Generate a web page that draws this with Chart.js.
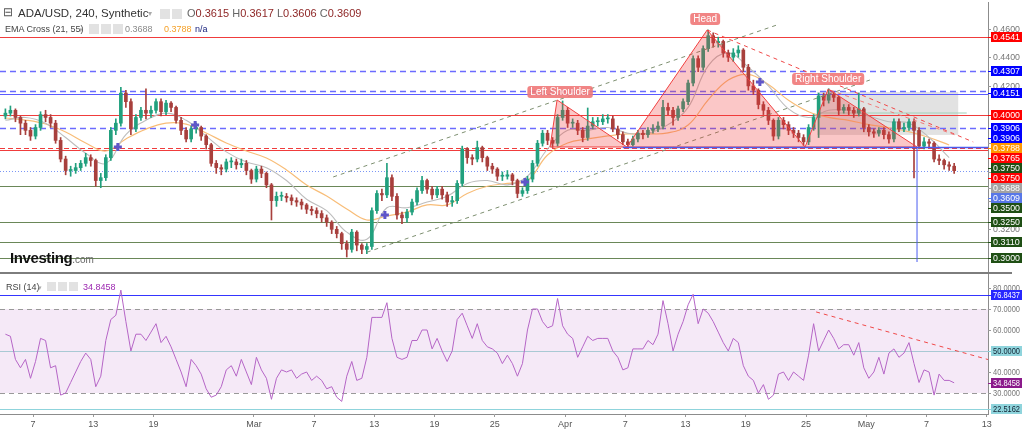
<!DOCTYPE html>
<html>
<head>
<meta charset="utf-8">
<title>ADA/USD, 240</title>
<script src="https://cdn.jsdelivr.net/npm/chart.js@4.4.1/dist/chart.umd.min.js"></script>
<style>
  body { margin: 0; background: #fff; }
  #wrap { position: relative; width: 1024px; height: 429px; overflow: hidden; font-family: "Liberation Sans", Arial, sans-serif; }
  canvas { position: absolute; left: 0; }
  #main { top: 0; width: 1024px; height: 273px; }
  #rsi { top: 273px; width: 1024px; height: 156px; }
  .t { position: absolute; white-space: nowrap; line-height: 1; }
  .ic { position: absolute; width: 10px; height: 10px; background: #e2e2e2; }
  .sep { position: absolute; left: 0; top: 272px; width: 1012px; height: 2px; background: #7d7d7d; }
</style>
</head>
<body>
<div id="wrap">
  <canvas id="main" width="1024" height="273"></canvas>
  <canvas id="rsi" width="1024" height="156"></canvas>
  <div class="sep"></div>

  <div class="t" style="left:3px;top:6px;font-size:12px;color:#555">&#8863;</div>
  <div class="t" style="left:18px;top:8px;font-size:11.5px;color:#333">ADA/USD, 240, Synthetic</div>
  <div class="t" style="left:148px;top:10px;font-size:8px;color:#aaa">&#9662;</div>
  <div class="ic" style="left:160px;top:9px"></div>
  <div class="ic" style="left:172px;top:9px"></div>
  <div class="t" style="left:187px;top:8px;font-size:11px;color:#666">O<span style="color:#8e2626">0.3615</span> H<span style="color:#8e2626">0.3617</span> L<span style="color:#8e2626">0.3606</span> C<span style="color:#8e2626">0.3609</span></div>

  <div class="t" style="left:5px;top:25px;font-size:9px;color:#444">EMA Cross (21, 55)</div>
  <div class="t" style="left:79px;top:26px;font-size:7px;color:#aaa">&#9662;</div>
  <div class="ic" style="left:89px;top:24px"></div>
  <div class="ic" style="left:101px;top:24px"></div>
  <div class="ic" style="left:113px;top:24px"></div>
  <div class="t" style="left:125px;top:25px;font-size:9px;color:#8a8a8a">0.3688</div>
  <div class="t" style="left:164px;top:25px;font-size:9px;color:#f5a128">0.3788</div>
  <div class="t" style="left:195px;top:25px;font-size:9px;color:#1a237e">n/a</div>

  <div class="t" style="left:10px;top:250px;font-size:15px;font-weight:bold;color:#111;letter-spacing:-0.4px">Investing<span style="font-size:10px;font-weight:normal;color:#666;letter-spacing:0">.com</span></div>

  <div class="t" style="left:6px;top:283px;font-size:9px;color:#444">RSI (14)</div>
  <div class="t" style="left:38px;top:284px;font-size:7px;color:#aaa">&#9662;</div>
  <div class="ic" style="left:47px;top:282px;width:9px;height:9px"></div>
  <div class="ic" style="left:58px;top:282px;width:9px;height:9px"></div>
  <div class="ic" style="left:69px;top:282px;width:9px;height:9px"></div>
  <div class="t" style="left:83px;top:283px;font-size:9px;color:#9c27b0">34.8458</div>
</div>
<script>
// 12h candles from Feb 4 onwards
const firstOpen = 0.399;
const closes = [
  .401,.403,.398,.394,.389,.385,.391,.400,.398,.394,
  .382,.369,.361,.361,.363,.366,.370,.368,.354,.356,
  .370,.389,.394,.415,.409,.390,.398,.403,.401,.403,
  .409,.402,.408,.405,.396,.389,.383,.390,.391,.385,
  .379,.366,.363,.362,.367,.367,.365,.366,.361,.355,
  .362,.359,.351,.340,.343,.343,.342,.340,.339,.337,
  .334,.333,.331,.328,.325,.320,.317,.310,.306,.318,
  .309,.306,.308,.333,.345,.344,.356,.343,.330,.328,
  .332,.339,.347,.354,.348,.344,.348,.344,.339,.340,
  .352,.376,.370,.369,.377,.370,.364,.362,.357,.357,
  .358,.354,.345,.347,.355,.366,.380,.387,.382,.380,
  .398,.403,.394,.394,.389,.384,.392,.395,.395,.397,
  .397,.390,.386,.381,.379,.383,.387,.386,.389,.390,
  .392,.405,.403,.398,.404,.409,.422,.439,.433,.446,
  .455,.450,.451,.443,.440,.443,.445,.433,.420,.417,
  .407,.403,.396,.385,.396,.393,.389,.387,.384,.381,
  .391,.398,.413,.410,.414,.412,.403,.405,.403,.401,
  .404,.391,.388,.387,.389,.386,.383,.395,.390,.391,
  .395,.389,.378,.381,.380,.369,.368,.365,.364,.3609
];
const highs = [
  .404,.406,.404,.399,.396,.391,.393,.402,.403,.400,
  .396,.384,.371,.364,.366,.368,.373,.372,.369,.359,
  .372,.391,.397,.419,.417,.411,.400,.405,.418,.406,
  .411,.411,.410,.409,.406,.398,.391,.392,.394,.392,
  .386,.380,.368,.365,.369,.370,.369,.369,.368,.362,
  .364,.364,.360,.352,.346,.346,.345,.344,.342,.341,
  .338,.336,.335,.333,.330,.326,.322,.318,.312,.320,
  .319,.310,.310,.335,.347,.348,.366,.358,.345,.332,
  .334,.341,.349,.357,.355,.350,.350,.350,.346,.343,
  .354,.378,.377,.372,.3815,.378,.371,.366,.363,.360,
  .361,.359,.355,.349,.357,.368,.382,.389,.389,.384,
  .400,.4095,.405,.397,.396,.391,.4046,.398,.398,.400,
  .400,.399,.392,.388,.383,.385,.389,.389,.391,.393,
  .395,.410,.408,.405,.406,.411,.424,.441,.441,.448,
  .459,.457,.454,.452,.445,.446,.448,.446,.435,.424,
  .418,.409,.405,.397,.398,.398,.395,.391,.389,.386,
  .393,.400,.415,.415,.418,.416,.413,.407,.407,.405,
  .415,.405,.393,.390,.391,.391,.388,.397,.397,.394,
  .397,.397,.391,.384,.383,.381,.372,.369,.367,.366
];
const lows = [
  .397,.399,.395,.386,.386,.382,.383,.389,.395,.391,
  .380,.367,.358,.357,.359,.361,.364,.364,.350,.349,
  .354,.368,.386,.392,.405,.386,.388,.396,.397,.398,
  .401,.399,.400,.402,.394,.386,.381,.381,.387,.382,
  .376,.364,.359,.358,.360,.363,.362,.363,.358,.352,
  .353,.356,.349,.3265,.336,.340,.339,.337,.336,.334,
  .331,.330,.328,.325,.322,.317,.314,.306,.3007,.304,
  .305,.303,.303,.306,.331,.340,.342,.340,.327,.324,
  .325,.330,.337,.345,.345,.341,.342,.341,.336,.336,
  .338,.350,.366,.365,.367,.367,.361,.359,.354,.354,
  .355,.351,.342,.343,.345,.353,.364,.378,.379,.377,
  .378,.396,.391,.391,.386,.381,.382,.390,.392,.393,
  .394,.388,.383,.379,.3775,.378,.381,.383,.384,.387,
  .388,.390,.400,.3927,.396,.402,.407,.420,.430,.431,
  .444,.447,.447,.440,.437,.437,.440,.430,.417,.414,
  .404,.400,.393,.382,.383,.390,.386,.384,.381,.3785,
  .379,.389,.384,.406,.408,.409,.400,.401,.400,.398,
  .399,.388,.385,.384,.385,.383,.380,.381,.388,.388,
  .389,.3558,.376,.376,.377,.367,.365,.362,.361,.359
];
const opens = closes.map((c, i) => i === 0 ? firstOpen : closes[i - 1]);

// EMA values read every 4th candle
const emaStep = 4;
const ema21 = [.396,.398,.394,.384,.373,.366,.386,.396,.401,.396,.385,.374,.367,.363,.354,.341,.333,.318,.313,.335,.335,.339,.343,.352,.354,.351,.357,.376,.389,.389,.391,.387,.387,.393,.405,.434,.443,.433,.420,.404,.398,.403,.403,.399,.395,.394,.384,.370];
const ema55 = [.3976,.3962,.3934,.3878,.3802,.3746,.3830,.3899,.3941,.3934,.3872,.3802,.3746,.3697,.3614,.3509,.3432,.3342,.3265,.3293,.3321,.3370,.337,.345,.350,.352,.354,.3718,.3802,.3830,.3851,.3865,.3865,.3872,.3927,.4102,.4241,.428,.421,.410,.402,.398,.396,.393,.391,.388,.384,.3788];
const crossIdx = [22.4, 37.8, 75.6, 103.5, 150.3];
const crossVal = [.3774, .3927, .330, .353, .4227];

const rsi = [
  58,57,46,42,46,37,45,56,55,42,
  43,29,30,35,40,45,49,46,33,38,
  55,65,67,79,64,50,58,58,55,59,
  63,54,57,52,46,40,33,46,43,39,
  32,28,29,33,41,43,38,46,40,34,
  47,41,37,27,37,41,40,41,37,39,
  40,36,38,36,32,33,28,26,38,45,
  36,37,47,66,66,66,73,56,47,46,
  47,55,55,60,60,51,56,50,45,50,
  65,68,62,56,63,55,52,51,49,44,
  48,44,38,44,60,70,70,64,61,62,
  75,62,58,56,47,52,57,55,56,56,
  56,50,47,41,42,51,51,51,55,53,
  58,74,63,50,58,64,72,77,63,70,
  68,64,59,54,50,56,54,43,38,36,
  30,34,27,29,39,40,36,40,38,36,
  48,63,50,55,60,56,51,53,53,48,
  54,42,37,40,47,39,49,51,47,49,
  54,44,35,41,40,29,39,36,36,34.85
];

// date ticks: days after Feb 4
const tickDays = [3, 9, 15, 25, 31, 37, 43, 49, 56, 62, 68, 74, 80, 86, 92, 98];
const tickLabels = ['7', '13', '19', 'Mar', '7', '13', '19', '25', 'Apr', '7', '13', '19', '25', 'May', '7', '13'];
const tickIdx = tickDays.map(d => d * 2 - 0.5);

// drawn levels
const redLines = [0.4541, 0.4000, 0.3755];
const redDashLines = [0.3770];
const blueDashLines = [0.4307, 0.4165, 0.3906];
const blueLines = [0.4145];
const greenLines = [0.3500, 0.3250, 0.3110, 0.3000];
const lastPrice = 0.3609;
const necklineLevel = 0.3774;
const necklineFrom = 123;

const leftShoulder = [[108.5, 0.3774], [109.9, 0.4102], [123.8, 0.3774]];
const headShape = [[123.8, 0.3774], [139.8, 0.4590], [159.3, 0.3774]];
const rightShoulder = [[159.3, 0.3774], [163.9, 0.4178], [181.6, 0.3774]];
const patternLabels = ['Left Shoulder', 'Head', 'Right Shoulder'];
const patternLabelAt = [[110.5, 0.4157], [139.4, 0.4667], [163.9, 0.4248]];
const channelUpper = [[65.3, 0.3565], [153.7, 0.4625]];
const channelLower = [[72.0, 0.3040], [172.2, 0.4241]];
const headTrend = [[139.8, 0.4590], [192.8, 0.3809]];
const shoulderTrend = [[164.3, 0.4171], [189.2, 0.3858]];
const zoneBox = [[161.7, 0.4157], [189.8, 0.3858]];
const zoneMid = [[161.7, 0.4011], [191.5, 0.4011]];
const dropMark = [[181.6, 0.3774], [181.6, 0.2972]];

const priceTicks = [0.46, 0.44, 0.42, 0.40, 0.38, 0.36, 0.34, 0.32, 0.30];
const tagValues = [0.4541, 0.4307, 0.4151, 0.4000, 0.3906, 0.3906, 0.3788, 0.3765, 0.3750, 0.3750, 0.3688, 0.3609, 0.3500, 0.3250, 0.3110, 0.3000];
const tagColors = ['#ff0000', '#0000ff', '#0000ff', '#ff0000', '#0000ff', '#0000ff', '#ff9800', '#ff0000', '#1f4f14', '#ff0000', '#a3a3a3', '#5877e8', '#1f4f14', '#1f4f14', '#1f4f14', '#1f4f14'];

const rsiTicks = [80, 70, 60, 50, 40, 30];
const rsiBand = [70, 30];
const rsiMid = 50;
const rsiHigh = 76.8437;
const rsiLow = 22.5162;
const rsiTrend = [[161.5, 68.6], [196.1, 45.7]];
const rsiTagValues = [76.8437, 50, 34.8458, 22.5162];
const rsiTagColors = ['#2727ff', '#8fd4dc', '#8b1a8b', '#8fd4dc'];
const rsiTagText = ['#fff', '#123', '#fff', '#123'];

const xMin = -1.076, xMax = 195.74;
const upColor = '#22a07e', downColor = '#a8403d';
const tagFont = '9px "Liberation Sans", Arial, sans-serif';

function candleColor(ctx) {
  const i = ctx.dataIndex;
  return closes[i] >= opens[i] ? upColor : downColor;
}

function line(ctx, x, y, pts, color, dash, width) {
  ctx.strokeStyle = color;
  ctx.lineWidth = width || 1;
  ctx.setLineDash(dash || []);
  ctx.beginPath();
  pts.forEach(([a, b], k) => {
    const px = x.getPixelForValue(a), py = y.getPixelForValue(b);
    if (k === 0) ctx.moveTo(px, py); else ctx.lineTo(px, py);
  });
  ctx.stroke();
}

function hline(ctx, area, y, v, color, dash, width) {
  const py = Math.round(y.getPixelForValue(v)) + 0.5;
  ctx.strokeStyle = color;
  ctx.lineWidth = width || 1;
  ctx.setLineDash(dash || []);
  ctx.beginPath();
  ctx.moveTo(area.left, py);
  ctx.lineTo(area.right, py);
  ctx.stroke();
}

function drawTags(ctx, scale, values, colors, textColors, x0) {
  let prevBottom = -Infinity;
  ctx.font = tagFont;
  ctx.textAlign = 'left';
  ctx.textBaseline = 'middle';
  values.forEach((v, k) => {
    let yc = Math.round(scale.getPixelForValue(v));
    if (yc - 5 < prevBottom) yc = prevBottom + 5;
    prevBottom = yc + 5;
    ctx.fillStyle = colors[k];
    ctx.fillRect(x0, yc, 3, 1);
    ctx.fillRect(x0 + 3, yc - 5, 31, 10);
    ctx.fillStyle = textColors ? textColors[k] : '#fff';
    ctx.fillText(v.toFixed(4), x0 + 5, yc + 0.5, 27);
  });
}

function drawTicks(ctx, scale, values, x0) {
  ctx.font = tagFont;
  ctx.textAlign = 'left';
  ctx.textBaseline = 'middle';
  values.forEach(v => {
    const yc = Math.round(scale.getPixelForValue(v));
    ctx.fillStyle = '#999';
    ctx.fillRect(x0, yc, 3, 1);
    ctx.fillStyle = '#777';
    ctx.fillText(v.toFixed(4), x0 + 5, yc + 0.5, 27);
  });
}

const mainOverlay = {
  id: 'mainOverlay',
  beforeDatasetsDraw(chart) {
    const { ctx, chartArea: a, scales: { x, y } } = chart;
    ctx.save();
    ctx.beginPath();
    ctx.rect(a.left, a.top, a.right - a.left, a.bottom - a.top);
    ctx.clip();
    const bx1 = x.getPixelForValue(zoneBox[0][0]), bx2 = x.getPixelForValue(zoneBox[1][0]);
    const by1 = y.getPixelForValue(zoneBox[0][1]), by2 = y.getPixelForValue(zoneBox[1][1]);
    ctx.fillStyle = 'rgba(150,150,150,0.28)';
    ctx.fillRect(bx1, by1, bx2 - bx1, by2 - by1);
    line(ctx, x, y, zoneMid, '#9fd0b8');
    redLines.forEach(v => hline(ctx, a, y, v, '#f03c3c'));
    redDashLines.forEach(v => hline(ctx, a, y, v, '#f03c3c', [5, 3]));
    blueDashLines.forEach(v => hline(ctx, a, y, v, '#6b6bff', [6, 4], 1.3));
    blueLines.forEach(v => hline(ctx, a, y, v, '#5a5aff'));
    greenLines.forEach(v => hline(ctx, a, y, v, '#6a8758'));
    hline(ctx, a, y, lastPrice, '#7b96f5', [1, 2]);
    ctx.restore();
  },
  afterDatasetsDraw(chart) {
    const { ctx, chartArea: a, scales: { x, y } } = chart;
    ctx.save();
    ctx.beginPath();
    ctx.rect(a.left, a.top, a.right - a.left, a.bottom - a.top);
    ctx.clip();
    line(ctx, x, y, channelUpper, '#7d8f70', [4, 4]);
    line(ctx, x, y, channelLower, '#7d8f70', [4, 4]);
    line(ctx, x, y, headTrend, '#f04848', [4, 4]);
    line(ctx, x, y, shoulderTrend, '#f07878', [4, 4]);
    [leftShoulder, headShape, rightShoulder].forEach(shape => {
      ctx.setLineDash([]);
      ctx.beginPath();
      shape.forEach(([a1, b1], k) => {
        const px = x.getPixelForValue(a1), py = y.getPixelForValue(b1);
        if (k === 0) ctx.moveTo(px, py); else ctx.lineTo(px, py);
      });
      ctx.closePath();
      ctx.fillStyle = 'rgba(242,54,54,0.28)';
      ctx.fill();
      ctx.strokeStyle = '#f04040';
      ctx.lineWidth = 1;
      ctx.stroke();
    });
    const nx = x.getPixelForValue(necklineFrom), ny = Math.round(y.getPixelForValue(necklineLevel)) + 0.5;
    ctx.strokeStyle = '#4a5cf0';
    ctx.lineWidth = 1.5;
    ctx.beginPath(); ctx.moveTo(nx, ny); ctx.lineTo(a.right, ny); ctx.stroke();
    line(ctx, x, y, dropMark, '#4a5cf0');

    ctx.font = '10px "Liberation Sans", Arial, sans-serif';
    ctx.textAlign = 'center';
    ctx.textBaseline = 'middle';
    patternLabels.forEach((txt, k) => {
      const px = x.getPixelForValue(patternLabelAt[k][0]);
      const py = y.getPixelForValue(patternLabelAt[k][1]);
      const w = ctx.measureText(txt).width + 6;
      ctx.fillStyle = 'rgba(240,120,120,0.9)';
      ctx.beginPath();
      ctx.roundRect(px - w / 2, py - 6, w, 12, 3);
      ctx.fill();
      ctx.fillStyle = '#fff';
      ctx.fillText(txt, px, py + 0.5);
    });
    ctx.restore();
  },
  afterDraw(chart) {
    const { ctx, chartArea: a, scales: { y } } = chart;
    ctx.save();
    drawTicks(ctx, y, priceTicks, a.right);
    drawTags(ctx, y, tagValues, tagColors, null, a.right);
    ctx.restore();
  }
};

const rsiOverlay = {
  id: 'rsiOverlay',
  beforeDatasetsDraw(chart) {
    const { ctx, chartArea: a, scales: { y } } = chart;
    ctx.save();
    const y1 = y.getPixelForValue(rsiBand[0]), y2 = y.getPixelForValue(rsiBand[1]);
    ctx.fillStyle = 'rgba(156,39,176,0.1)';
    ctx.fillRect(a.left, y1, a.right - a.left, y2 - y1);
    rsiBand.forEach(v => hline(ctx, a, y, v, '#999', [5, 4]));
    hline(ctx, a, y, rsiMid, '#a9c9d4');
    hline(ctx, a, y, rsiHigh, '#3535ff', [], 1.2);
    hline(ctx, a, y, rsiLow, '#8fd4dc', [], 1.2);
    ctx.restore();
  },
  afterDatasetsDraw(chart) {
    const { ctx, chartArea: a, scales: { x, y } } = chart;
    ctx.save();
    ctx.beginPath();
    ctx.rect(a.left, a.top, a.right - a.left, a.bottom - a.top);
    ctx.clip();
    line(ctx, x, y, rsiTrend, '#f04848', [4, 4]);
    ctx.restore();
  },
  afterDraw(chart) {
    const { ctx, chartArea: a, scales: { y } } = chart;
    ctx.save();
    drawTicks(ctx, y, rsiTicks, a.right);
    drawTags(ctx, y, rsiTagValues, rsiTagColors, rsiTagText, a.right);
    ctx.restore();
  }
};

const axisWidth = s => { s.width = 36; };

new Chart(document.getElementById('main'), {
  type: 'bar',
  data: {
    datasets: [
      {
        type: 'scatter',
        data: crossIdx.map((v, k) => ({ x: v, y: crossVal[k] })),
        pointStyle: 'cross',
        pointRadius: 4,
        borderWidth: 3,
        borderColor: '#5f56c9',
        order: 0
      },
      {
        label: 'wick',
        data: highs.map((h, i) => ({ x: i, y: [lows[i], h] })),
        backgroundColor: candleColor,
        barThickness: 1,
        grouped: false,
        order: 1
      },
      {
        label: 'body',
        data: closes.map((c, i) => ({ x: i, y: [opens[i], c] })),
        backgroundColor: candleColor,
        barThickness: 3,
        minBarLength: 1,
        grouped: false,
        order: 1
      },
      {
        type: 'line',
        label: 'EMA 21',
        data: ema21.map((v, k) => ({ x: k * emaStep, y: v })),
        borderColor: '#bdbdbd',
        borderWidth: 1.1,
        pointRadius: 0,
        tension: 0.4,
        order: 2
      },
      {
        type: 'line',
        label: 'EMA 55',
        data: ema55.map((v, k) => ({ x: k * emaStep, y: v })),
        borderColor: '#f8bd78',
        borderWidth: 1.2,
        pointRadius: 0,
        tension: 0.4,
        order: 2
      }
    ]
  },
  options: {
    responsive: false,
    animation: false,
    layout: { autoPadding: false, padding: { top: 2, left: 0, right: 0, bottom: 0 } },
    plugins: { legend: { display: false }, tooltip: { enabled: false } },
    scales: {
      x: { type: 'linear', min: xMin, max: xMax, offset: false, display: false },
      y: {
        position: 'right',
        min: 0.28953,
        max: 0.47851,
        afterFit: axisWidth,
        ticks: { display: false },
        grid: { display: false },
        border: { display: true, color: '#8c8c8c' }
      }
    }
  },
  plugins: [mainOverlay]
});

new Chart(document.getElementById('rsi'), {
  type: 'line',
  data: {
    datasets: [{
      label: 'RSI (14)',
      data: rsi.map((v, i) => ({ x: i, y: v })),
      borderColor: '#b565c6',
      borderWidth: 1,
      pointRadius: 0,
      tension: 0
    }]
  },
  options: {
    responsive: false,
    animation: false,
    layout: { autoPadding: false, padding: 0 },
    plugins: { legend: { display: false }, tooltip: { enabled: false } },
    scales: {
      x: {
        type: 'linear',
        min: xMin,
        max: xMax,
        afterFit: s => { s.height = 15; },
        afterBuildTicks: s => { s.ticks = tickIdx.map(v => ({ value: v })); },
        ticks: {
          autoSkip: false,
          maxRotation: 0,
          padding: 2,
          color: '#555',
          font: { size: 9, family: '"Liberation Sans", Arial' },
          callback: (v, k) => tickLabels[k]
        },
        grid: { drawOnChartArea: false, tickLength: 3, color: '#999' },
        border: { display: true, color: '#8c8c8c' }
      },
      y: {
        position: 'right',
        min: 20,
        max: 87.14,
        afterFit: axisWidth,
        ticks: { display: false },
        grid: { display: false },
        border: { display: true, color: '#8c8c8c' }
      }
    }
  },
  plugins: [rsiOverlay]
});
</script>
</body>
</html>
